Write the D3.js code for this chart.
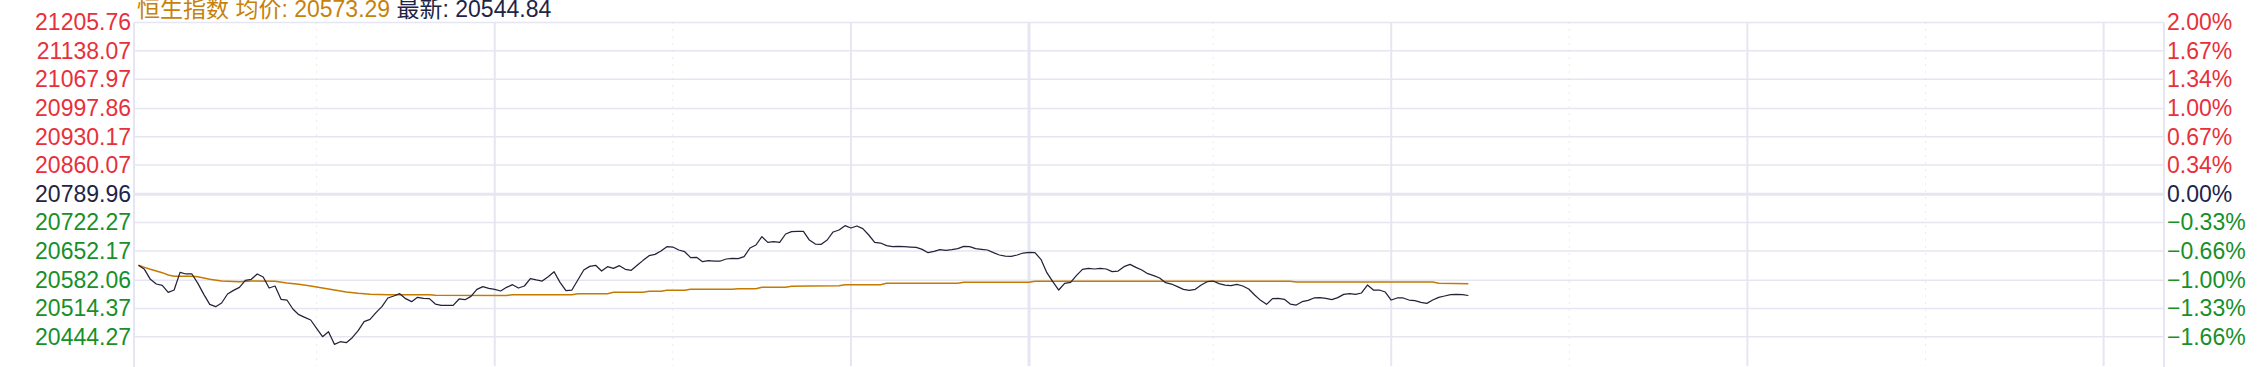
<!DOCTYPE html>
<html>
<head>
<meta charset="utf-8">
<script src="https://cdn.jsdelivr.net/npm/d3@7"></script>
<style>
  body { margin: 0; background: #fff; }
  svg { display: block; font-family: "Liberation Sans", Arial, "Noto Sans CJK SC", sans-serif; }
</style>
</head>
<body>
<div id="vis"></div>
<script>
// Grösse des Bildes
var width = 2268;
var height = 367;

// Daten
var indexName = '恒生指数';
var prevClose = 20789.96;
var avgNow = 20573.29;
var lastNow = 20544.84;

// linke Beschriftung (Kurs) und rechte Beschriftung (Prozent)
var priceTicks = ['21205.76', '21138.07', '21067.97', '20997.86', '20930.17', '20860.07',
                  '20789.96', '20722.27', '20652.17', '20582.06', '20514.37', '20444.27'];
var pctTicks = [2.00, 1.67, 1.34, 1.00, 0.67, 0.34, 0.00, -0.33, -0.66, -1.00, -1.33, -1.66];

// Zeitraster
var solidTimes = ['10:30', '11:30', '14:00', '15:00', '16:00'];
var dottedTimes = ['10:00', '11:00', '13:30', '14:30', '15:30'];
var middayTime = '12:00';

// Minutenkurse ab 09:30
var prices = [
  20617.9, 20608.2, 20584.0, 20572.7, 20569.4, 20552.5, 20558.1, 20600.9, 20596.9, 20596.9,
  20574.3, 20547.6, 20523.4, 20517.8, 20526.7, 20548.5, 20557.3, 20564.6, 20581.5, 20584.0,
  20596.9, 20589.6, 20563.0, 20567.8, 20535.5, 20533.9, 20512.1, 20498.4, 20491.9, 20485.5,
  20465.3, 20445.2, 20457.3, 20426.6, 20433.0, 20430.6, 20442.7, 20459.7, 20481.5, 20487.1,
  20503.3, 20517.8, 20538.8, 20543.6, 20549.3, 20537.2, 20529.9, 20540.4, 20538.0, 20537.2,
  20524.2, 20521.0, 20521.0, 20521.0, 20536.4, 20534.7, 20542.8, 20559.8, 20566.2, 20562.2,
  20559.8, 20555.7, 20564.6, 20571.0, 20563.0, 20567.8, 20585.6, 20582.4, 20579.9, 20590.4,
  20602.5, 20576.7, 20556.5, 20558.1, 20582.4, 20606.6, 20615.4, 20617.9, 20604.1, 20614.6,
  20610.6, 20617.0, 20608.2, 20605.8, 20617.9, 20629.9, 20641.3, 20644.5, 20652.6, 20663.1,
  20662.2, 20655.0, 20650.9, 20636.4, 20637.2, 20626.7, 20629.1, 20628.3, 20628.3, 20633.2,
  20634.8, 20634.0, 20638.8, 20659.8, 20667.1, 20687.3, 20673.5, 20675.1, 20673.5, 20693.7,
  20699.4, 20700.2, 20700.2, 20679.0, 20669.5, 20668.7, 20679.2, 20698.6, 20703.4, 20713.9,
  20708.2, 20713.1, 20706.6, 20691.3, 20673.5, 20671.9, 20665.5, 20663.1, 20663.9, 20663.1,
  20662.2, 20661.4, 20656.6, 20648.5, 20651.7, 20655.8, 20654.2, 20655.8, 20658.2, 20663.9,
  20663.1, 20658.2, 20656.6, 20655.0, 20648.5, 20642.9, 20640.4, 20639.6, 20642.9, 20647.7,
  20649.3, 20648.5, 20632.4, 20600.1, 20578.3, 20558.1, 20574.3, 20576.7, 20593.6, 20608.2,
  20610.6, 20609.0, 20610.6, 20609.0, 20602.5, 20604.1, 20614.6, 20620.3, 20613.0, 20606.6,
  20597.7, 20592.8, 20587.2, 20575.9, 20572.6, 20566.2, 20559.8, 20557.3, 20559.8, 20570.2,
  20578.3, 20579.9, 20573.5, 20570.2, 20568.6, 20571.9, 20567.8, 20560.6, 20546.0, 20533.1,
  20523.4, 20537.2, 20538.0, 20535.5, 20524.2, 20521.8, 20529.9, 20533.1, 20538.8, 20539.6,
  20538.0, 20534.7, 20539.6, 20547.6, 20549.3, 20547.6, 20550.9, 20570.2, 20558.1, 20558.1,
  20553.3, 20533.9, 20538.8, 20538.8, 20533.9, 20532.3, 20528.3, 20525.8, 20533.9, 20540.4,
  20543.6, 20546.8, 20547.6, 20546.8, 20544.84
];

// Durchschnittspreis (Minute seit 09:30, Wert)
var avgMinutes = [0, 1, 2, 3, 4, 5, 6, 9, 10, 12, 14, 17, 19, 23, 25, 27, 29, 31, 33, 35, 37, 39,
  42, 49, 50, 62, 63, 73, 74, 79, 80, 85, 86, 88, 89, 92, 93, 100, 101, 104, 105, 109, 110, 113,
  118, 119, 125, 126, 138, 139, 150, 151, 194, 195, 218, 219, 224];
var avgValues = [20617.9, 20613.0, 20608.2, 20604.1, 20600.1, 20594.5, 20591.2, 20591.2, 20590.4,
  20584.0, 20579.9, 20578.3, 20579.9, 20579.1, 20575.1, 20571.9, 20567.8, 20563.0, 20558.1,
  20553.3, 20550.1, 20547.6, 20546.8, 20546.8, 20545.2, 20545.0, 20546.8, 20546.8, 20549.3,
  20549.3, 20552.5, 20552.5, 20554.9, 20554.9, 20557.3, 20557.3, 20559.8, 20559.8, 20561.4,
  20561.4, 20564.6, 20564.6, 20567.0, 20567.8, 20568.6, 20571.0, 20571.0, 20574.3, 20574.3,
  20576.7, 20576.7, 20579.1, 20579.1, 20577.5, 20577.5, 20574.3, 20573.29];

// Farben
var red = '#e8303a';
var green = '#17902a';
var navy = '#1e2446';
var orange = '#c7820a';
var gridColor = '#e6e6f2';

// Plotbereich
var plot = {left: 134, right: 2164, top: 22.5, bottom: 366};

// Zeit -> Minutenslot (Mittagspause wird übersprungen)
function slot(t) {
    var p = t.split(':');
    var m = +p[0] * 60 + +p[1];
    if (m <= 720) return m - 570;
    return m - 780 + 151;
}

var x = d3.scaleLinear().domain([0, 341]).range([138.5, 2163]);
var yPct = d3.scaleLinear().domain([-2, 2]).range([plot.bottom, plot.top]);
var yPrice = d3.scaleLinear().domain([prevClose * 0.98, prevClose * 1.02]).range([plot.bottom, plot.top]);

function colorFor(p) {
    return p > 0 ? red : (p < 0 ? green : navy);
}

var svg = d3.select('#vis').append('svg')
    .attr('width', width)
    .attr('height', height);

// horizontale Rasterlinien
svg.append('g').selectAll('line')
    .data(pctTicks)
    .enter().append('line')
    .attr('x1', plot.left).attr('x2', plot.right)
    .attr('y1', function (d) { return yPct(d); })
    .attr('y2', function (d) { return yPct(d); })
    .attr('stroke', gridColor)
    .attr('stroke-width', function (d) { return d === 0 ? 3 : 1.5; });

// gepunktete Zeitlinien
svg.append('g').selectAll('line')
    .data(dottedTimes)
    .enter().append('line')
    .attr('x1', function (d) { return x(slot(d)); })
    .attr('x2', function (d) { return x(slot(d)); })
    .attr('y1', plot.top).attr('y2', plot.bottom)
    .attr('stroke', '#d8d8d8')
    .attr('stroke-width', 1)
    .attr('stroke-dasharray', '1,6');

// durchgezogene Zeitlinien
svg.append('g').selectAll('line')
    .data(solidTimes)
    .enter().append('line')
    .attr('x1', function (d) { return x(slot(d)); })
    .attr('x2', function (d) { return x(slot(d)); })
    .attr('y1', plot.top).attr('y2', plot.bottom)
    .attr('stroke', gridColor)
    .attr('stroke-width', 2);

// Mittagslinie
svg.append('line')
    .attr('x1', x(slot(middayTime))).attr('x2', x(slot(middayTime)))
    .attr('y1', plot.top).attr('y2', plot.bottom)
    .attr('stroke', gridColor)
    .attr('stroke-width', 3);

// Rahmen links und rechts
svg.append('g').selectAll('line')
    .data([plot.left, plot.right])
    .enter().append('line')
    .attr('x1', function (d) { return d; })
    .attr('x2', function (d) { return d; })
    .attr('y1', plot.top).attr('y2', plot.bottom + 1)
    .attr('stroke', gridColor)
    .attr('stroke-width', 2);

// Durchschnittslinie
var avgData = avgMinutes.map(function (m, i) { return {m: m, v: avgValues[i]}; });
svg.append('path')
    .datum(avgData)
    .attr('fill', 'none')
    .attr('stroke', '#c47a00')
    .attr('stroke-width', 1.5)
    .attr('d', d3.line()
        .x(function (d) { return x(d.m); })
        .y(function (d) { return yPrice(d.v); }));

// Kurslinie
svg.append('path')
    .datum(prices)
    .attr('fill', 'none')
    .attr('stroke', '#222238')
    .attr('stroke-width', 1.25)
    .attr('stroke-linejoin', 'round')
    .attr('d', d3.line()
        .x(function (d, i) { return x(i); })
        .y(function (d) { return yPrice(d); }));

// linke Achse
var leftAxis = svg.append('g')
    .attr('transform', 'translate(' + plot.left + ',0)')
    .call(d3.axisLeft(yPct)
        .tickValues(pctTicks)
        .tickSize(0)
        .tickPadding(3)
        .tickFormat(function (d, i) { return priceTicks[i]; }));
leftAxis.select('.domain').remove();
leftAxis.selectAll('text')
    .style('font-size', '23px')
    .style('font-family', '"Liberation Sans", Arial, sans-serif')
    .attr('fill', function (d) { return colorFor(d); });

// rechte Achse
var rightAxis = svg.append('g')
    .attr('transform', 'translate(' + plot.right + ',0)')
    .call(d3.axisRight(yPct)
        .tickValues(pctTicks)
        .tickSize(0)
        .tickPadding(3)
        .tickFormat(function (d) { return d3.format('.2f')(d) + '%'; }));
rightAxis.select('.domain').remove();
rightAxis.selectAll('text')
    .style('font-size', '23px')
    .style('font-family', '"Liberation Sans", Arial, sans-serif')
    .attr('fill', function (d) { return colorFor(d); });

// Titel (oben angeschnitten wie im Original)
var title = svg.append('text')
    .attr('x', 137)
    .attr('y', 17)
    .style('font-size', '23px');
title.append('tspan')
    .attr('fill', orange)
    .text(indexName + ' 均价: ' + avgNow.toFixed(2));
title.append('tspan')
    .attr('fill', navy)
    .text(' 最新: ' + lastNow.toFixed(2));
</script>
</body>
</html>
